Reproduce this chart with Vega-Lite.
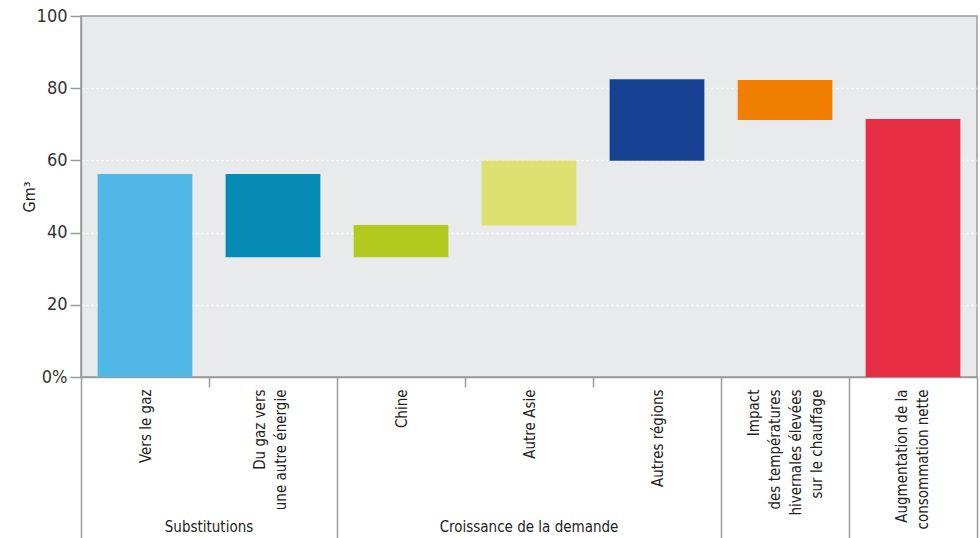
{
  "$schema": "https://vega.github.io/schema/vega-lite/v6.json",
  "width": 896,
  "height": 361,
  "autosize": {"type": "none"},
  "padding": {"left": 81, "top": 16, "right": 3, "bottom": 161},
  "background": "white",
  "config": {
    "font": "Liberation Sans Narrow, DejaVu Sans Condensed, sans-serif",
    "view": {"fill": "#e9eaec", "stroke": "#9a9a9a", "strokeWidth": 1.5}
  },
  "datasets": {
    "bars": [
      {"category": "Vers le gaz", "start": 0, "end": 56.2},
      {"category": "Du gaz vers une autre énergie", "start": 56.2, "end": 33.2},
      {"category": "Chine", "start": 33.2, "end": 42.1},
      {"category": "Autre Asie", "start": 42.0, "end": 60.0},
      {"category": "Autres régions", "start": 59.9, "end": 82.5},
      {"category": "Impact des températures hivernales élevées sur le chauffage", "start": 82.3, "end": 71.2},
      {"category": "Augmentation de la consommation nette", "start": 0, "end": 71.5}
    ],
    "groups": [
      {"group": "Substitutions", "anchor": "Du gaz vers une autre énergie"},
      {"group": "Croissance de la demande", "anchor": "Autre Asie"}
    ]
  },
  "layer": [
    {
      "data": {"name": "bars"},
      "mark": {"type": "bar", "width": {"band": 0.74}},
      "encoding": {
        "x": {
          "field": "category",
          "type": "nominal",
          "sort": null,
          "scale": {"paddingInner": 0, "paddingOuter": 0},
          "axis": {
            "title": null,
            "labelAngle": 270,
            "labelAlign": "right",
            "labelBaseline": "middle",
            "labelFontSize": 15,
            "labelColor": "#222222",
            "labelPadding": {"condition": {"test": "indexof(['Vers le gaz', 'Chine', 'Autre Asie'], datum.value) < 0", "value": -149}, "value": 2},
            "labelOffset": {"condition": [
              {"test": "datum.value == 'Du gaz vers une autre énergie'", "value": -14},
              {"test": "datum.value == 'Impact des températures hivernales élevées sur le chauffage'", "value": -32},
              {"test": "datum.value == 'Augmentation de la consommation nette'", "value": -12}
            ], "value": 0},
            "labelLineHeight": 21,
            "labelLimit": 300,
            "labelExpr": "datum.value == 'Du gaz vers une autre énergie' ? ['Du gaz vers', 'une autre énergie'] : datum.value == 'Impact des températures hivernales élevées sur le chauffage' ? ['Impact', 'des températures', 'hivernales élevées', 'sur le chauffage'] : datum.value == 'Augmentation de la consommation nette' ? ['Augmentation de la', 'consommation nette'] : datum.label",
            "tickBand": "extent",
            "tickColor": "#9a9a9a",
            "tickWidth": 1.5,
            "tickSize": {"condition": {"test": "indexof(['Vers le gaz', 'Chine', 'Autre Asie'], datum.value) < 0", "value": 161}, "value": 10},
            "domainColor": "#9a9a9a",
            "domainWidth": 1.5
          }
        },
        "y": {
          "field": "start",
          "type": "quantitative",
          "scale": {"domain": [0, 100]},
          "axis": {
            "title": "Gm³",
            "titleFontSize": 16,
            "titleFontWeight": "normal",
            "titleColor": "#222222",
            "titlePadding": -1,
            "values": [0, 20, 40, 60, 80, 100],
            "labelExpr": "datum.value == 0 ? '0%' : datum.label",
            "labelFontSize": 18,
            "labelColor": "#333333",
            "labelPadding": 3,
            "tickSize": 11,
            "tickColor": "#9a9a9a",
            "tickWidth": 1.5,
            "domainColor": "#9a9a9a",
            "domainWidth": 1.5,
            "grid": true,
            "gridColor": "#ffffff",
            "gridDash": [2, 3],
            "gridWidth": 1.5,
            "gridOpacity": {"condition": {"test": "datum.value == 0 || datum.value == 100", "value": 0}, "value": 1}
          }
        },
        "y2": {"field": "end"},
        "color": {
          "field": "category",
          "type": "nominal",
          "sort": null,
          "legend": null,
          "scale": {"range": ["#50b7e7", "#068bb6", "#b3cb1e", "#dde170", "#174293", "#f07f00", "#e72e44"]}
        }
      }
    },
    {
      "data": {"name": "groups"},
      "transform": [{"filter": "datum.group == 'Substitutions'"}],
      "mark": {"type": "text", "fontSize": 15, "color": "#222222", "align": "center", "baseline": "middle"},
      "encoding": {
        "x": {"field": "anchor", "type": "nominal", "sort": null, "bandPosition": 0},
        "y": {"datum": -41.5, "type": "quantitative"},
        "text": {"field": "group"}
      }
    },
    {
      "data": {"name": "groups"},
      "transform": [{"filter": "datum.group == 'Croissance de la demande'"}],
      "mark": {"type": "text", "fontSize": 15, "color": "#222222", "align": "center", "baseline": "middle"},
      "encoding": {
        "x": {"field": "anchor", "type": "nominal", "sort": null, "bandPosition": 0.5},
        "y": {"datum": -41.5, "type": "quantitative"},
        "text": {"field": "group"}
      }
    }
  ]
}
